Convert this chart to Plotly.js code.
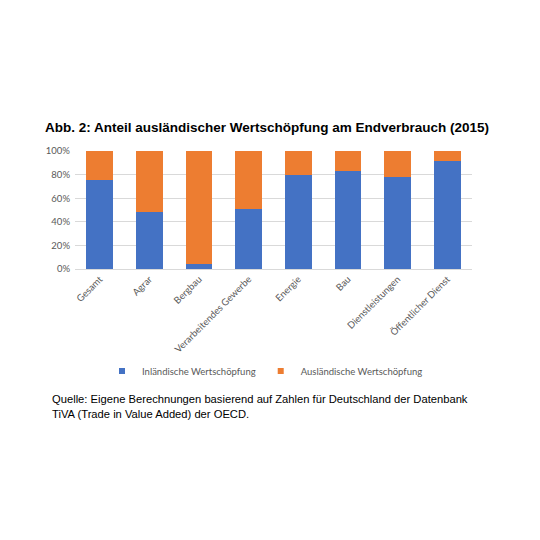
<!DOCTYPE html>
<html>
<head>
<meta charset="utf-8">
<script src="https://cdn.plot.ly/plotly-3.0.1.min.js"></script>
<style>
  html, body { margin: 0; padding: 0; background: #fff; }
  #chart { width: 540px; height: 540px; }
</style>
</head>
<body>
<div id="chart"></div>
<script>
const categories = ['Gesamt', 'Agrar', 'Bergbau', 'Verarbeitendes Gewerbe', 'Energie', 'Bau', 'Dienstleistungen', 'Öffentlicher Dienst'];
const seriesNames = ['Inländische Wertschöpfung', 'Ausländische Wertschöpfung'];
const inlaendisch = [0.754, 0.486, 0.045, 0.511, 0.799, 0.830, 0.777, 0.918];
const auslaendisch = [0.246, 0.514, 0.955, 0.489, 0.201, 0.170, 0.223, 0.082];
const yTicks = [0, 0.2, 0.4, 0.6, 0.8, 1.0];
const yTickLabels = ['0%', '20%', '40%', '60%', '80%', '100%'];

const BLUE = '#4472C4';
const ORANGE = '#ED7D31';
const GREY = '#595959';

const barTrace = (name, values, color) => ({
  type: 'bar',
  name: name,
  x: categories,
  y: values,
  marker: { color: color },
  showlegend: false,
  legendgroup: name,
});

// small square legend keys like the Excel original
const legendKey = (name, color) => ({
  type: 'scatter',
  mode: 'markers',
  name: name,
  x: [null],
  y: [null],
  marker: { symbol: 'square', size: 6, color: color },
  legendgroup: name,
});

const traces = [
  barTrace(seriesNames[0], inlaendisch, BLUE),
  barTrace(seriesNames[1], auslaendisch, ORANGE),
  legendKey(seriesNames[0], BLUE),
  legendKey(seriesNames[1], ORANGE),
];

const layout = {
  width: 540,
  height: 540,
  barmode: 'stack',
  bargap: 0.46,
  paper_bgcolor: '#fff',
  plot_bgcolor: '#fff',
  margin: { l: 75, r: 68, t: 151, b: 271 },
  font: { family: 'Lato, "Open Sans", sans-serif', color: GREY, size: 9.5 },
  title: {
    text: '<b>Abb. 2: Anteil ausländischer Wertschöpfung am Endverbrauch (2015)</b>',
    font: { family: 'Arial, "Liberation Sans", sans-serif', size: 13.5, color: '#000' },
    xref: 'container',
    x: 45 / 540,
    xanchor: 'left',
    yref: 'container',
    y: 1 - 127 / 540,
    yanchor: 'middle',
  },
  xaxis: {
    tickangle: -45,
    tickfont: { size: 9.5, color: GREY },
    showgrid: false,
    zeroline: false,
    showline: true,
    linecolor: '#d9d9d9',
    ticks: '',
  },
  yaxis: {
    range: [0, 1],
    tickvals: yTicks,
    ticktext: yTickLabels,
    tickfont: { size: 9.5, color: GREY },
    gridcolor: '#d9d9d9',
    gridwidth: 1,
    zeroline: false,
    ticks: '',
    ticklabelstandoff: 4,
  },
  showlegend: true,
  legend: {
    orientation: 'h',
    xref: 'container',
    yref: 'container',
    x: 265 / 540,
    xanchor: 'center',
    y: 1 - 371 / 540,
    yanchor: 'middle',
    font: { size: 9.5, color: GREY },
    itemwidth: 30,
    traceorder: 'normal',
  },
  annotations: [
    {
      xref: 'paper',
      yref: 'paper',
      x: (50 - 75) / 397,
      y: (269 - 406) / 118,
      xanchor: 'left',
      yanchor: 'middle',
      align: 'left',
      showarrow: false,
      text: 'Quelle: Eigene Berechnungen basierend auf Zahlen für Deutschland der Datenbank<br>TiVA (Trade in Value Added) der OECD.',
      font: { family: 'Arial, "Liberation Sans", sans-serif', size: 11.2, color: '#000' },
    },
  ],
};

Plotly.newPlot('chart', traces, layout, { displayModeBar: false, staticPlot: true });
</script>
</body>
</html>
